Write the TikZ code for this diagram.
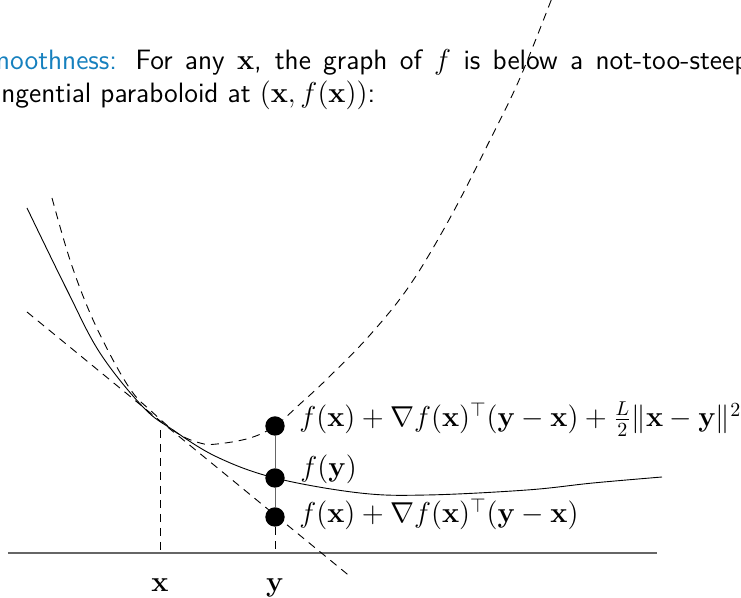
\documentclass[tikz,border=0pt]{standalone}
\usepackage{amsmath}
\definecolor{structblue}{RGB}{22,128,190}

\begin{document}
\begin{tikzpicture}[x=0.5pt,y=-0.5pt,
  curve/.style={line width=0.45pt},
  guide/.style={line width=0.45pt,dash pattern=on 4pt off 3pt},
  axis/.style={line width=0.7pt,black!60},
  dot/.style={circle,fill=black,inner sep=0pt,minimum size=9.7pt},
  lab/.style={anchor=base west,inner sep=0pt,font=\fontsize{14.3}{17}\selectfont},
  txt/.style={anchor=base west,inner sep=0pt,font=\fontsize{14}{16.5}\selectfont\sffamily}]
\useasboundingbox (0,0) rectangle (741,598);
% slide text, cut at both sides
\node[txt] (line1) at (-12,70)
 {\hbox to 380pt{\llap{\color{structblue}S}{\color{structblue}moothness:} For any $\mathbf{x}$, the graph of $f$ is below a not-too-steep}};
\node[txt] (line2) at (1,103)
 {\llap{ta}ngential paraboloid at $(\mathbf{x},f(\mathbf{x}))$:};
% axis and the two abscissae
\draw[axis] (8,553) -- (657,553);
\coordinate (xt) at (160,430); \coordinate (xa) at (160,553);
\coordinate (ya) at (275,553);
\node[lab,anchor=base] (xlab) at (160,592) {$\mathbf{x}$};
\node[lab,anchor=base] (ylab) at (275,592) {$\mathbf{y}$};
\draw[guide] (xt) -- (xa);
% f, its tangent and the upper paraboloid
\draw[curve] plot[smooth,tension=0.6] coordinates {(27,208) (67,290) (100,353) (143,407) (173,430)
  (217,457) (275,478) (360,493) (427,495) (527,490) (593,483) (662,477)};
\draw[guide] (27,312) -- (352,578);
\draw[guide] plot[smooth,tension=0.6] coordinates {(52,198) (70,260) (90,313) (113,360) (133,393)
  (150,410) (177,433) (200,443) (217,444) (250,438) (275,426) (300,404) (327,379) (370,335)
  (410,285) (450,218) (490,140) (520,78) (552,-2)};
% the three values at y
\node[dot] (up) at (275,426) {};
\node[dot] (fy) at (275,478) {};
\node[dot] (lo) at (275,517) {};
\draw[axis,line width=0.5pt] (up) -- (fy) -- (lo);
\draw[guide] (lo) -- (ya);
\node[lab] (lup) at (299,427) {$f(\mathbf{x})+\nabla f(\mathbf{x})^\top(\mathbf{y}-\mathbf{x})+\frac{L}{2}\|\mathbf{x}-\mathbf{y}\|^2$};
\node[lab] (lfy) at (300,477) {$f(\mathbf{y})$};
\node[lab] (llo) at (299,523) {$f(\mathbf{x})+\nabla f(\mathbf{x})^\top(\mathbf{y}-\mathbf{x})$};
\end{tikzpicture}
\end{document}
